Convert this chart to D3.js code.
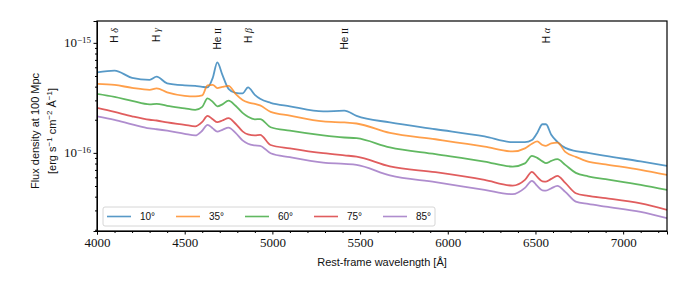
<!DOCTYPE html>
<html>
<head>
<meta charset="utf-8">
<script src="https://cdn.jsdelivr.net/npm/d3@7"></script>
<style>
  body { margin: 0; background: #fff; }
  svg { display: block; }
</style>
</head>
<body>
<div id="chart"></div>
<script>
// rest-frame wavelength grid (Angstrom)
var wavelength = [4000, 4100, 4200, 4300, 4340, 4400, 4500, 4560, 4600, 4630, 4660, 4686, 4715, 4750, 4790, 4830, 4861, 4900, 4930, 4990,
    5100, 5290, 5410, 5480, 5670, 5930, 6210, 6370, 6440, 6480, 6510, 6540, 6560, 6590, 6625, 6670, 6730, 6800, 6900, 7100, 7250];

// flux density in units of 1e-16 erg/s/cm2/A
var flux10 = [5.39, 5.59, 4.81, 4.61, 4.94, 4.28, 4.11, 4.07, 3.98, 3.94, 4.81, 6.65, 5.12, 3.82, 3.51, 3.47, 3.94, 3.37, 3.10, 2.85,
    2.65, 2.38, 2.42, 2.17, 1.89, 1.64, 1.41, 1.25, 1.25, 1.31, 1.52, 1.82, 1.82, 1.46, 1.26, 1.11, 1.04, 1.00, 0.939, 0.837, 0.762];
var flux35 = [4.24, 4.15, 3.90, 3.74, 3.86, 3.55, 3.30, 3.26, 3.33, 4.11, 4.15, 3.88, 3.98, 4.07, 3.44, 3.03, 2.88, 2.79, 2.70, 2.36,
    2.18, 1.93, 1.89, 1.85, 1.52, 1.33, 1.14, 1.03, 1.10, 1.21, 1.27, 1.18, 1.16, 1.22, 1.24, 1.02, 0.920, 0.834, 0.786, 0.701, 0.631];
var flux60 = [3.44, 3.23, 2.97, 2.76, 2.79, 2.68, 2.54, 2.46, 2.62, 3.13, 2.91, 2.65, 2.76, 2.99, 2.68, 2.31, 2.13, 2.02, 2.03, 1.71,
    1.59, 1.44, 1.38, 1.36, 1.12, 0.973, 0.834, 0.751, 0.803, 0.939, 0.901, 0.837, 0.806, 0.846, 0.876, 0.778, 0.658, 0.612, 0.577, 0.512, 0.461];
var flux75 = [2.57, 2.36, 2.15, 2.00, 1.97, 1.89, 1.80, 1.74, 1.91, 2.17, 2.02, 1.90, 1.97, 2.07, 1.84, 1.57, 1.47, 1.44, 1.46, 1.18,
    1.10, 0.993, 0.949, 0.926, 0.754, 0.668, 0.568, 0.504, 0.568, 0.672, 0.605, 0.551, 0.548, 0.580, 0.618, 0.534, 0.430, 0.407, 0.388, 0.347, 0.303];
var flux85 = [2.15, 2.00, 1.82, 1.67, 1.64, 1.59, 1.49, 1.44, 1.59, 1.80, 1.67, 1.56, 1.62, 1.70, 1.52, 1.30, 1.21, 1.17, 1.16, 0.993,
    0.914, 0.816, 0.794, 0.778, 0.624, 0.542, 0.461, 0.421, 0.481, 0.557, 0.501, 0.456, 0.454, 0.476, 0.501, 0.442, 0.361, 0.344, 0.325, 0.291, 0.255];
var fluxUnit = 1e-16;

var angleLabels = ["10°", "35°", "60°", "75°", "85°"];
var colors = ["#1f77b4", "#ff7f0e", "#2ca02c", "#d62728", "#9467bd"];

// emission line markers
var lineWaves = [4102, 4340, 4686, 4861, 5411, 6563];
var lineIons = ["H", "H", "He", "H", "He", "H"];
var lineStages = ["δ", "γ", "II", "β", "II", "α"];

var xMajor = [4000, 4500, 5000, 5500, 6000, 6500, 7000];
var yMajor = [1e-16, 1e-15];
var yMajorExp = ["−16", "−15"];

var W = 696, H = 290;
var margin = {top: 21, right: 29, bottom: 59, left: 97};
var width = W - margin.left - margin.right,
    height = H - margin.top - margin.bottom;

var svg = d3.select("#chart").append("svg")
    .attr("width", W).attr("height", H);
var g = svg.append("g").attr("transform", "translate(" + margin.left + "," + margin.top + ")");

var x = d3.scaleLinear().domain([4000, 7250]).range([0, width]);
var y = d3.scaleLog().domain([1.95e-17, 1.58e-15]).range([height, 0]);

var serif = "'Liberation Serif', 'DejaVu Serif', serif";
var sans = "'Liberation Sans', 'DejaVu Sans', sans-serif";

g.append("clipPath").attr("id", "clip")
  .append("rect").attr("width", width).attr("height", height);

// spectra
var series = [flux10, flux35, flux60, flux75, flux85];
var line = d3.line()
    .x(function(d, i){ return x(wavelength[i]); })
    .y(function(d){ return y(d * fluxUnit); })
    .curve(d3.curveMonotoneX);

g.append("g").attr("clip-path", "url(#clip)")
  .selectAll("path")
  .data(series)
  .enter().append("path")
    .attr("d", line)
    .attr("fill", "none")
    .attr("stroke", function(d, i){ return colors[i]; })
    .attr("stroke-opacity", 0.75)
    .attr("stroke-width", 1.8)
    .attr("stroke-linejoin", "round");

// x axis
var minorX = d3.range(4000, 7251, 100).filter(function(v){ return v % 500 != 0; });
var xAxis = d3.axisBottom(x).tickValues(xMajor).tickSize(3.5).tickPadding(3).tickFormat(d3.format("d"));
var gx = g.append("g").attr("transform", "translate(0," + height + ")").call(xAxis);
g.append("g").attr("transform", "translate(0," + height + ")")
  .call(d3.axisBottom(x).tickValues(minorX).tickSize(2).tickFormat(""))
  .select(".domain").remove();
gx.selectAll("text").attr("font-family", serif).attr("font-size", 13).attr("fill", "#111");

// y axis
var minorY = [];
[1e-17, 1e-16].forEach(function(dec){
  d3.range(2, 10).forEach(function(k){
    var v = k * dec;
    if (v >= y.domain()[0] && v <= y.domain()[1]) minorY.push(v);
  });
});
var gy = g.append("g").call(d3.axisLeft(y).tickValues(yMajor).tickSize(3.5).tickFormat(""));
g.append("g").call(d3.axisLeft(y).tickValues(minorY).tickSize(2).tickFormat(""))
  .select(".domain").remove();

yMajor.forEach(function(v, i){
  var t = g.append("text")
    .attr("x", -6).attr("y", y(v)).attr("dy", "0.35em")
    .attr("text-anchor", "end")
    .attr("font-family", serif).attr("font-size", 13).attr("fill", "#111");
  t.append("tspan").text("10");
  t.append("tspan").attr("dy", "-0.45em").attr("font-size", 9).text(yMajorExp[i]);
});

g.selectAll(".domain").attr("stroke", "#000");
g.selectAll(".tick line").attr("stroke", "#000");

// frame
g.append("rect").attr("width", width).attr("height", height)
  .attr("fill", "none").attr("stroke", "#000").attr("stroke-width", 1.2);

// emission line labels
lineWaves.forEach(function(w, i){
  var t = g.append("text")
    .attr("transform", "translate(" + x(w) + ",7) rotate(-90)")
    .attr("text-anchor", "end").attr("dy", "0.35em")
    .attr("font-size", 10).attr("fill", "#111");
  t.append("tspan").attr("font-family", sans).text(lineIons[i] + " ");
  if (lineStages[i] == "II") {
    t.append("tspan").attr("font-family", serif).attr("font-size", 9).text(lineStages[i]);
  } else {
    t.append("tspan").attr("font-family", serif).attr("font-style", "italic").text(lineStages[i]);
  }
});

// axis labels
svg.append("text")
  .attr("x", margin.left + width / 2).attr("y", 266)
  .attr("text-anchor", "middle")
  .attr("font-family", sans).attr("font-size", 11).attr("fill", "#111")
  .text("Rest-frame wavelength [Å]");

var yl = svg.append("g").attr("transform", "translate(0,131) rotate(-90)");
yl.append("text").attr("x", 0).attr("y", 39).attr("text-anchor", "middle")
  .attr("font-family", sans).attr("font-size", 11).attr("fill", "#111")
  .text("Flux density at 100 Mpc");
var yl2 = yl.append("text").attr("x", 0).attr("y", 56).attr("text-anchor", "middle")
  .attr("font-family", sans).attr("font-size", 11).attr("fill", "#111");
yl2.append("tspan").text("[erg s");
yl2.append("tspan").attr("dy", -4).attr("font-size", 8).text("−1");
yl2.append("tspan").attr("dy", 4).text(" cm");
yl2.append("tspan").attr("dy", -4).attr("font-size", 8).text("−2");
yl2.append("tspan").attr("dy", 4).text(" Å");
yl2.append("tspan").attr("dy", -4).attr("font-size", 8).text("−1");
yl2.append("tspan").attr("dy", 4).text("]");

// legend
var legend = g.append("g").attr("transform", "translate(6," + (height - 24) + ")");
legend.append("rect").attr("width", 332).attr("height", 19).attr("rx", 2)
  .attr("fill", "#fff").attr("fill-opacity", 0.8).attr("stroke", "#ccc").attr("stroke-width", 0.8);
angleLabels.forEach(function(lab, i){
  var e = legend.append("g").attr("transform", "translate(" + (4 + i * 69) + ",9.5)");
  e.append("line").attr("x1", 0).attr("x2", 24)
    .attr("stroke", colors[i]).attr("stroke-opacity", 0.75).attr("stroke-width", 1.6);
  e.append("text").attr("x", 33).attr("dy", "0.35em")
    .attr("font-family", sans).attr("font-size", 10).attr("fill", "#111").text(lab);
});
</script>
</body>
</html>
